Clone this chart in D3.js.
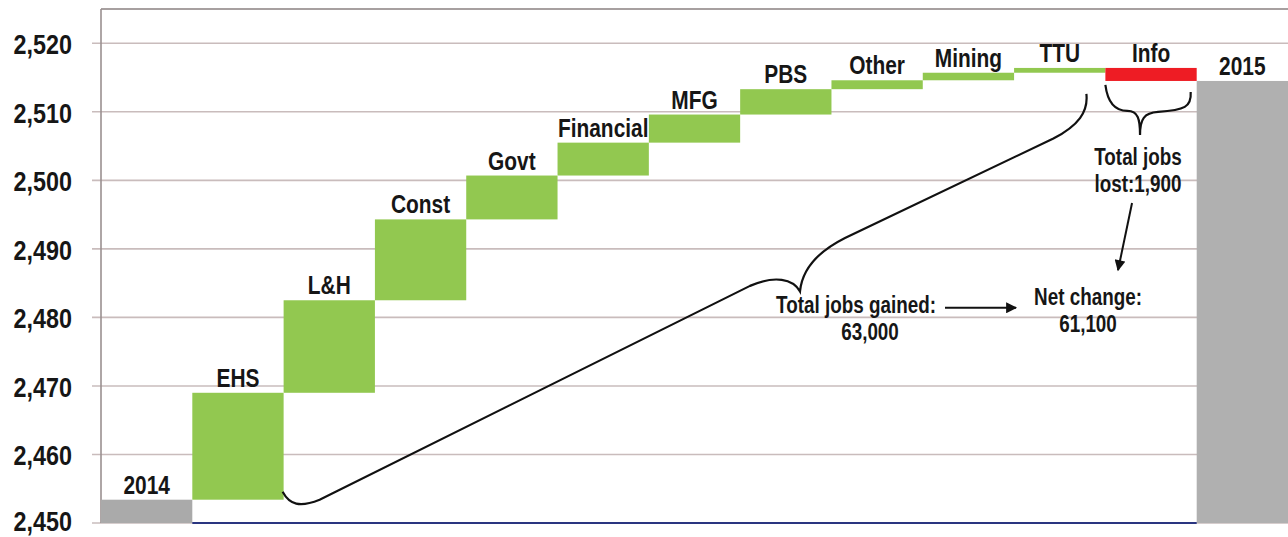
<!DOCTYPE html>
<html>
<head>
<meta charset="utf-8">
<script src="https://cdn.jsdelivr.net/npm/d3@7"></script>
<style>
  html, body { margin: 0; padding: 0; background: #fff; }
  svg { display: block; }
  text { font-family: "Liberation Sans", Arial, sans-serif; font-weight: bold; fill: #161616; }
</style>
</head>
<body>
<svg id="chart" width="1288" height="537"></svg>
<script>
// ---- data ----
const categories = ["2014", "EHS", "L&H", "Const", "Govt", "Financial", "MFG", "PBS", "Other", "Mining", "TTU", "Info", "2015"];
const startValue = 2453.4;          // 2014 total (thousands)
const changes = [15.6, 13.5, 11.8, 6.4, 4.8, 4.1, 3.7, 1.3, 1.1, 0.7, -1.9]; // EHS .. Info
const yTicks = [2450, 2460, 2470, 2480, 2490, 2500, 2510, 2520];
const notes = {
  gained: ["Total jobs gained:", "63,000"],
  lost: ["Total jobs", "lost:1,900"],
  net: ["Net change:", "61,100"]
};

(function () {
const SX = 0.82; // horizontal condensing (narrow bold face)

// ---- build waterfall rows ----
const rows = [];
rows.push({ cat: categories[0], lo: 2450, hi: startValue, kind: "total" });
let run = startValue;
changes.forEach((c, i) => {
  const a = run, b = run + c;
  rows.push({ cat: categories[i + 1], lo: Math.min(a, b), hi: Math.max(a, b), kind: c >= 0 ? "up" : "down" });
  run = b;
});
rows.push({ cat: categories[categories.length - 1], lo: 2450, hi: run, kind: "total2" });

const svg = d3.select("#chart");
const pL = 101, pR = 1288, pT = 9, pB = 523;

const x = d3.scaleBand().domain(categories).range([pL, pR]).padding(0);
const y = d3.scaleLinear().domain([2450, 2525]).range([pB, pT]);

// gridlines
svg.append("g").selectAll("line").data(yTicks).join("line")
  .attr("x1", pL - 9).attr("x2", pR)
  .attr("y1", d => y(d)).attr("y2", d => y(d))
  .attr("stroke", "#c9bcbc").attr("stroke-width", 1.6);

// top border
svg.append("line").attr("x1", pL).attr("x2", pR).attr("y1", y(2525)).attr("y2", y(2525))
  .attr("stroke", "#8a8080").attr("stroke-width", 1.6);

// y axis
const yAxis = d3.axisLeft(y).tickValues(yTicks).tickFormat(d3.format(",")).tickSize(0).tickPadding(0);
const gy = svg.append("g").attr("transform", `translate(${pL},0)`).call(yAxis);
gy.select(".domain").remove();
gy.attr("font-family", null).attr("font-size", null);
gy.selectAll("text").style("font-size", "28.5px").attr("fill", "#161616")
  .attr("x", -29 / SX).attr("dy", d => d === 2450 ? "0.27em" : "0.36em").attr("transform", `scale(${SX},1)`);
svg.append("line").attr("x1", pL).attr("x2", pL).attr("y1", pT).attr("y2", pB)
  .attr("stroke", "#9a9090").attr("stroke-width", 1.6);

// bars
const colour = { total: "#aaaaaa", total2: "#b0b0b0", up: "#92c850", down: "#ee1c24" };
svg.append("g").selectAll("rect").data(rows).join("rect")
  .attr("x", d => x(d.cat))
  .attr("width", x.bandwidth())
  .attr("y", d => y(d.hi))
  .attr("height", d => y(d.lo) - y(d.hi))
  .attr("fill", d => colour[d.kind]);

// baseline under the step bars
svg.append("line")
  .attr("x1", x(categories[1])).attr("x2", x(categories[categories.length - 1]))
  .attr("y1", y(2450)).attr("y2", y(2450))
  .attr("stroke", "#2a3580").attr("stroke-width", 2);

// condensed text helper
function ctext(str, cx, by, size) {
  return svg.append("text")
    .attr("transform", `translate(${cx},${by}) scale(${SX},1)`)
    .attr("text-anchor", "middle")
    .style("font-size", size + "px")
    .text(str);
}

// bar labels
rows.forEach(d => ctext(d.cat, x(d.cat) + x.bandwidth() / 2, y(d.hi) - 6, 25.5));

// ---- annotations ----
const ink = "#111";
const ehsR = x("EHS") + x.bandwidth();
const infoL = x("Info"), infoR = x("Info") + x.bandwidth();
const infoMid = infoL + x.bandwidth() / 2;
const ttuR = x("TTU") + x.bandwidth();

// big brace for gains
const bigBrace = d3.path();
bigBrace.moveTo(ehsR - 1, y(startValue) - 8);
bigBrace.bezierCurveTo(ehsR + 6, y(startValue) + 5, ehsR + 16, y(startValue) + 8, ehsR + 36, y(startValue));
bigBrace.lineTo(750, y(2484.6));
bigBrace.bezierCurveTo(775, y(2486.2), 793, y(2485.6), 800, y(2483.8));
bigBrace.bezierCurveTo(802, y(2486.8), 815, y(2489.4), 845, y(2491.6));
bigBrace.lineTo(ttuR - 52, y(2506.1));
bigBrace.bezierCurveTo(ttuR - 27, y(2508), ttuR - 17, y(2510), ttuR - 19, y(2512.6));
svg.append("path").attr("d", bigBrace.toString()).attr("fill", "none").attr("stroke", ink).attr("stroke-width", 2.2);

// small brace for losses
const infoBottom = y(run);
const tipX = infoMid - 11;
const sb = d3.path();
sb.moveTo(infoL, infoBottom + 4);
sb.bezierCurveTo(infoL + 2, infoBottom + 20, infoL + 8, infoBottom + 30, infoL + 22, infoBottom + 30);
sb.bezierCurveTo(tipX - 2, infoBottom + 30, tipX, infoBottom + 38, tipX, infoBottom + 54);
sb.bezierCurveTo(tipX, infoBottom + 38, tipX + 4, infoBottom + 32, tipX + 18, infoBottom + 31);
sb.bezierCurveTo(infoR - 12, infoBottom + 29, infoR - 5, infoBottom + 26, infoR - 6, infoBottom + 11);
svg.append("path").attr("d", sb.toString()).attr("fill", "none").attr("stroke", ink).attr("stroke-width", 2.2);

// arrow marker
svg.append("defs").append("marker")
  .attr("id", "ah").attr("viewBox", "0 0 10 10").attr("refX", 9).attr("refY", 5)
  .attr("markerWidth", 6).attr("markerHeight", 5.5).attr("markerUnits", "strokeWidth")
  .attr("orient", "auto")
  .append("path").attr("d", "M0,0 L10,5 L0,10 z").attr("fill", ink);

// arrows
svg.append("line").attr("x1", 945).attr("y1", y(2481.4)).attr("x2", 1016).attr("y2", y(2481.4))
  .attr("stroke", ink).attr("stroke-width", 2).attr("marker-end", "url(#ah)");
svg.append("line").attr("x1", infoMid - 19).attr("y1", y(2496.7)).attr("x2", infoMid - 33).attr("y2", y(2486.9))
  .attr("stroke", ink).attr("stroke-width", 2).attr("marker-end", "url(#ah)");

// annotation text
ctext(notes.gained[0], 856, 313, 23);
ctext(notes.gained[1], 870, 340, 23);
ctext(notes.lost[0], tipX - 2, 165, 23);
ctext(notes.lost[1], tipX - 2, 192, 23);
ctext(notes.net[0], 1088, 305, 23);
ctext(notes.net[1], 1088, 332, 23);
})();
</script>
</body>
</html>
